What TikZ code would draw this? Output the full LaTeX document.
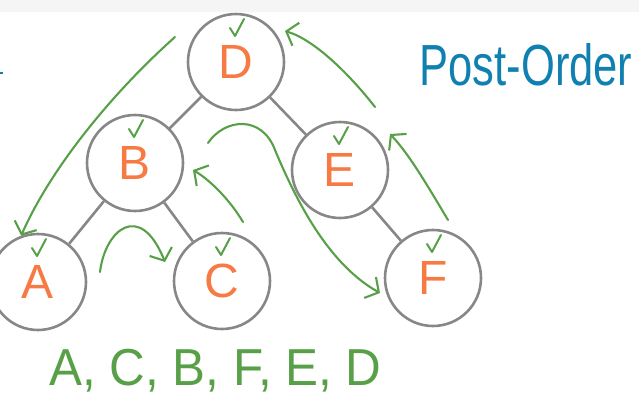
\documentclass[tikz,border=0pt]{standalone}
\usepackage{fontspec}
\setmainfont{Liberation Sans}
\usepackage{tikz}
\usetikzlibrary{positioning,calc,arrows.meta}
\usepackage{xcolor}
\definecolor{trail}{RGB}{88,160,72}
\definecolor{letter}{RGB}{247,122,68}
\definecolor{title}{RGB}{16,128,176}
\definecolor{ring}{RGB}{135,135,135}

\begin{document}
\begin{tikzpicture}[x=1pt,y=-1pt,
    vertex/.style={circle,draw=ring,line width=2.6pt,minimum size=96pt,inner sep=0pt,
        text=letter,font=\fontsize{48}{48}\selectfont},
    edge/.style={draw=ring,line width=2.6pt},
    tick/.style={draw=trail,line width=2pt,line cap=round,line join=round},
    walk/.style={draw=trail,line width=2.1pt,line cap=round,
        -{Straight Barb[length=10pt,width=24pt]}}]
\useasboundingbox (0,0) rectangle (639,416);
\fill[black!4] (0,0) rectangle (639,12);
\draw[title,line width=1.5pt] (0,73) -- (3,73);
\foreach \n/\x/\y in {D/236/62,B/135/163,E/340/170,A/38/282,C/222/281,F/433/278} {
    \node[vertex] (\n) at (\x,\y) {\n};
    \draw[tick] ([shift={(-6,-34)}]\n.center) -- ++(5,8) -- ++(9,-17);
}
\foreach \a/\b in {D/B,D/E,B/A,B/C,E/F}
    \draw[edge] (\a) -- (\b);
\node[anchor=base west,text=title,xscale=0.75,font=\fontsize{58}{58}\selectfont] (head) at (417,85) {Post-Order};
\node[anchor=base west,text=trail,xscale=0.95,font=\fontsize{52}{52}\selectfont] (order) at (46,385) {A, C, B, F, E, D};
\coordinate (s1) at (175,37);
\coordinate (s2) at (100,272);
\coordinate (e2) at (165,262);
\coordinate (s3) at (243,222);
\coordinate (e3) at (193,170);
\coordinate (s4) at (208,143);
\coordinate (m4) at (275,150);
\coordinate (e4) at (380,293);
\coordinate (s5) at (448,220);
\coordinate (e5) at (390,134);
\coordinate (s6) at (375,107);
\coordinate (e6) at (285,31);
\draw[walk] (s1) .. controls (110,95) and (50,170) .. (A.110);
\draw[walk] (s2) .. controls (105,230) and (140,200) .. (e2);
\draw[walk] (s3) .. controls (230,200) and (210,180) .. (e3);
\draw[walk] (s4) .. controls (225,118) and (262,115) .. (m4) .. controls (298,205) and (330,265) .. (e4);
\draw[walk] (s5) .. controls (430,190) and (410,155) .. (e5);
\draw[walk] (s6) .. controls (350,75) and (315,40) .. (e6);
\end{tikzpicture}
\end{document}
